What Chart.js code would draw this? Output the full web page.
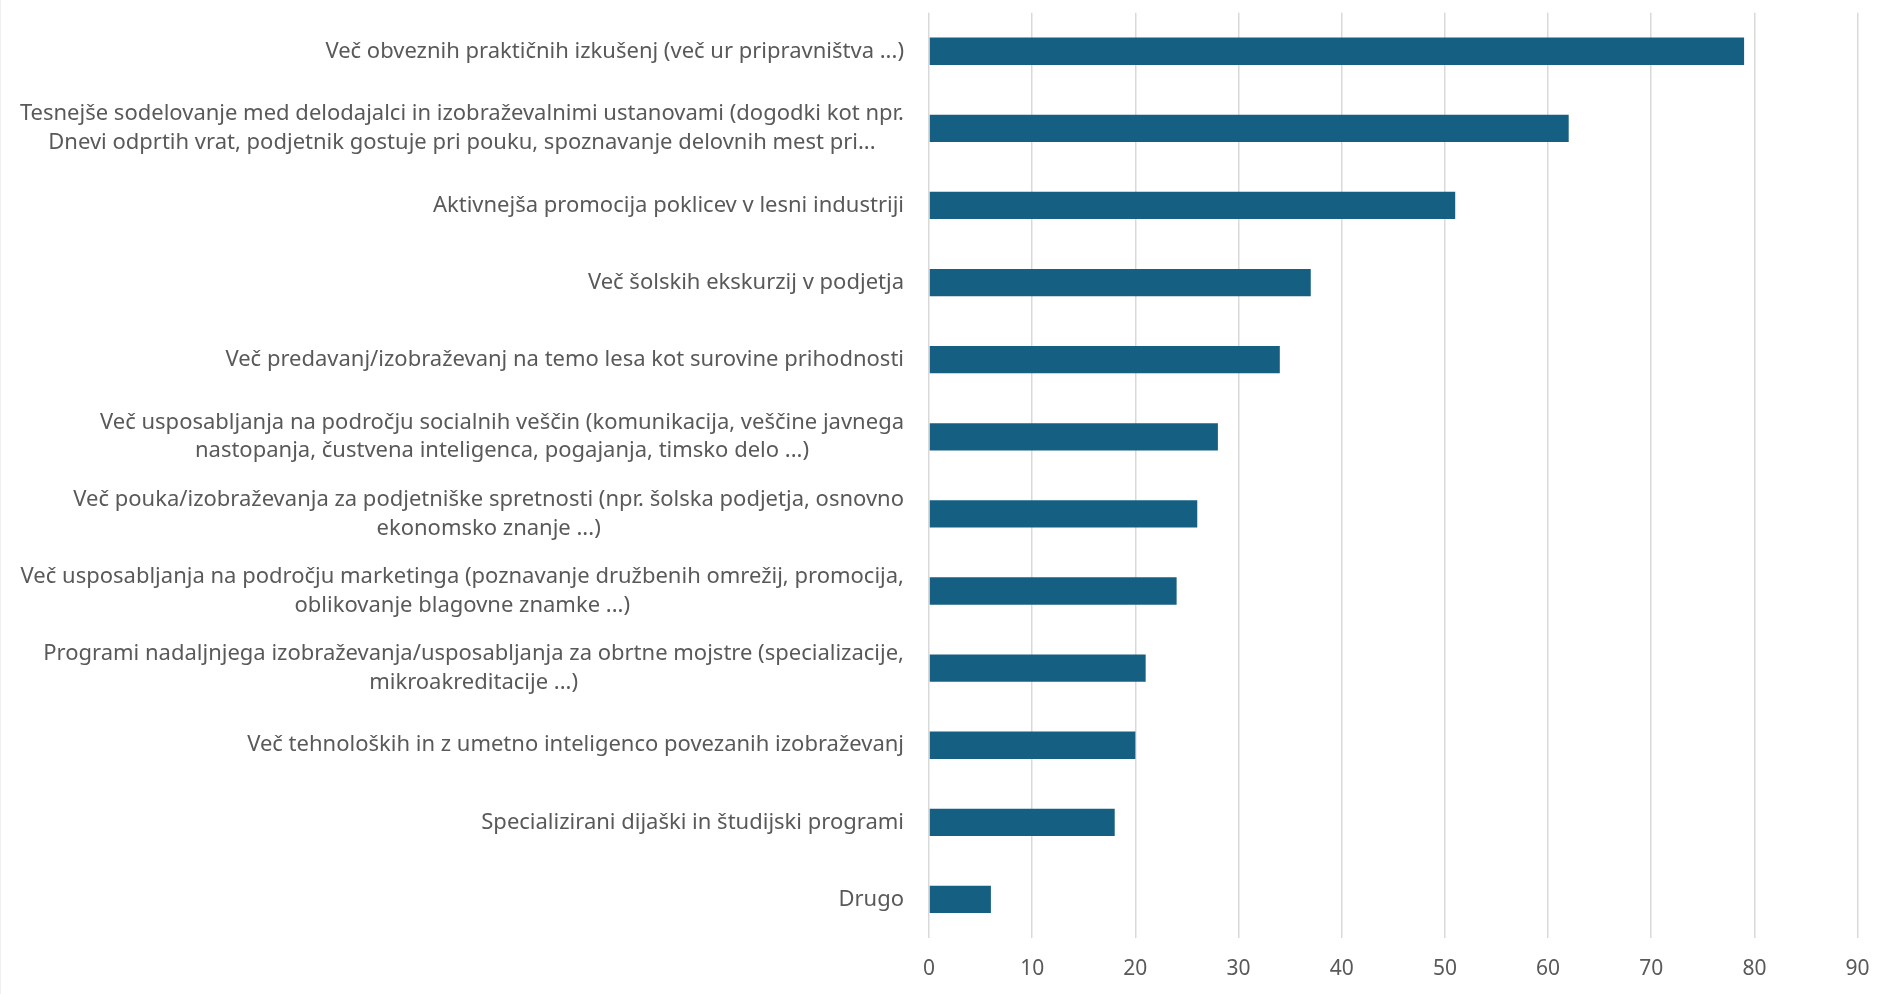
<!DOCTYPE html>
<html>
<head>
<meta charset="utf-8">
<script src="https://cdn.jsdelivr.net/npm/chart.js@4.4.0/dist/chart.umd.min.js"></script>
<style>
    html, body { margin: 0; padding: 0; background: #fff; }
    #wrap { width: 1881px; height: 994px; position: relative; }
    #wrap::before { content: ''; position: absolute; left: 0; top: 0; bottom: 0; width: 1px; background: #f0f0f0; }
</style>
</head>
<body>
<div id="wrap"><canvas id="chart"></canvas></div>
<script>
const categories = [
    ['Več obveznih praktičnih izkušenj (več ur pripravništva ...)'],
    ['Tesnejše sodelovanje med delodajalci in izobraževalnimi ustanovami (dogodki kot npr.', 'Dnevi odprtih vrat, podjetnik gostuje pri pouku, spoznavanje delovnih mest pri...'],
    ['Aktivnejša promocija poklicev v lesni industriji'],
    ['Več šolskih ekskurzij v podjetja'],
    ['Več predavanj/izobraževanj na temo lesa kot surovine prihodnosti'],
    ['Več usposabljanja na področju socialnih veščin (komunikacija, veščine javnega', 'nastopanja, čustvena inteligenca, pogajanja, timsko delo ...)'],
    ['Več pouka/izobraževanja za podjetniške spretnosti (npr. šolska podjetja, osnovno', 'ekonomsko znanje ...)'],
    ['Več usposabljanja na področju marketinga (poznavanje družbenih omrežij, promocija,', 'oblikovanje blagovne znamke ...)'],
    ['Programi nadaljnjega izobraževanja/usposabljanja za obrtne mojstre (specializacije,', 'mikroakreditacije ...)'],
    ['Več tehnoloških in z umetno inteligenco povezanih izobraževanj'],
    ['Specializirani dijaški in študijski programi'],
    ['Drugo']
];
const values = [79, 62, 51, 37, 34, 28, 26, 24, 21, 20, 18, 6];
const axisMax = 90;
const axisStep = 10;

const FONT = '"Noto Sans", "Open Sans", sans-serif';
const TEXT_COLOR = '#595959';

// Excel-style category labels: block right-aligned, lines centred inside the block
const categoryLabels = {
    id: 'categoryLabels',
    afterDraw(chart) {
        const ctx = chart.ctx;
        const yScale = chart.scales.y;
        const right = 904;
        const lineH = 28.8;
        ctx.save();
        ctx.font = '22px ' + FONT;
        ctx.fillStyle = TEXT_COLOR;
        ctx.textAlign = 'center';
        ctx.textBaseline = 'middle';
        categories.forEach((lines, i) => {
            const cy = yScale.getPixelForTick(i);
            const w = Math.max(...lines.map(l => ctx.measureText(l).width));
            const cx = right - w / 2;
            lines.forEach((l, j) => {
                ctx.fillText(l, cx, cy + (j - (lines.length - 1) / 2) * lineH);
            });
        });
        ctx.restore();
    }
};

new Chart(document.getElementById('chart'), {
    type: 'bar',
    data: {
        labels: categories.map(c => c.join(' ')),
        datasets: [{
            data: values,
            backgroundColor: '#156082',
            borderWidth: 0,
            categoryPercentage: 1,
            barPercentage: 0.354
        }]
    },
    options: {
        indexAxis: 'y',
        responsive: true,
        maintainAspectRatio: false,
        animation: false,
        layout: { padding: { top: 12.7, right: 23.4, bottom: 0, left: 0 } },
        plugins: { legend: { display: false }, tooltip: { enabled: false } },
        scales: {
            x: {
                min: 0,
                max: axisMax,
                ticks: {
                    stepSize: axisStep,
                    color: TEXT_COLOR,
                    font: { family: FONT, size: 21 },
                    padding: 18
                },
                grid: { color: '#D9D9D9', lineWidth: 1.5, drawTicks: false },
                border: { display: false },
                afterFit: s => { s.height = 56; s.paddingLeft = 0; s.paddingRight = 0; }
            },
            y: {
                ticks: { display: false },
                grid: { display: false },
                border: { display: false },
                afterFit: s => { s.width = 929; }
            }
        }
    },
    plugins: [categoryLabels]
});
</script>
</body>
</html>
